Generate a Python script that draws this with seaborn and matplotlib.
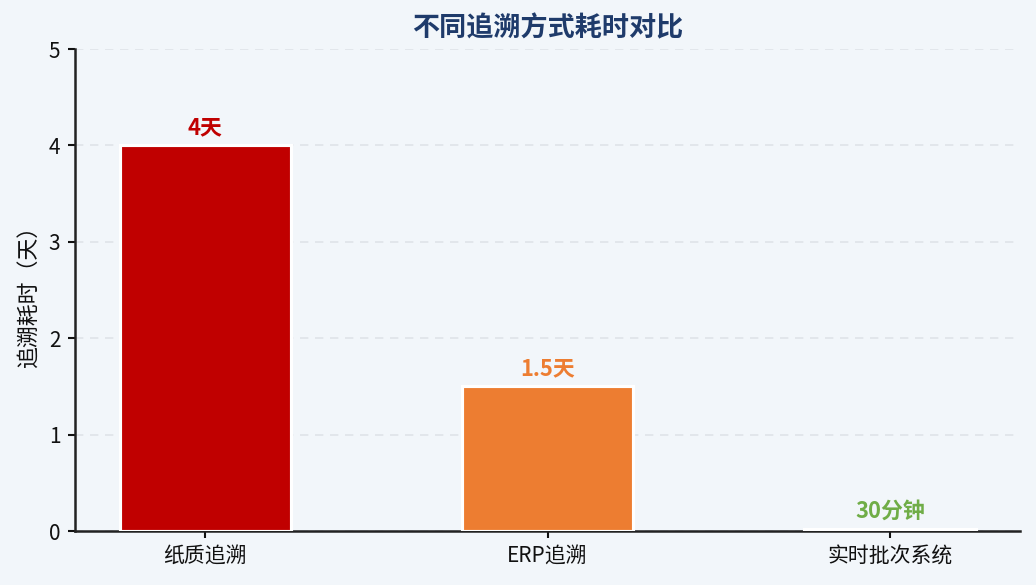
import matplotlib
matplotlib.use("Agg")
import matplotlib.pyplot as plt
import seaborn as sns
import pandas as pd

categories = ["纸质追溯", "ERP追溯", "实时批次系统"]
values_days = [4, 1.5, 30 / 60 / 24]
labels = ["4天", "1.5天", "30分钟"]
colors = ["#c00000", "#ed7d31", "#70ad47"]

bg = "#f2f6fa"
sns.set_theme(style="white")
plt.rcParams["font.family"] = ["Noto Sans CJK SC", "DejaVu Sans"]
plt.rcParams["axes.unicode_minus"] = False

df = pd.DataFrame({"method": categories, "days": values_days})

fig = plt.figure(figsize=(1036 / 150, 585 / 150), dpi=150, facecolor=bg)
ax = fig.add_axes([0.0724, 0.0923, 0.9122, 0.8239])
ax.set_facecolor(bg)

sns.barplot(data=df, x="method", y="days", hue="method", palette=colors,
            saturation=1, legend=False, width=0.5, edgecolor="white",
            linewidth=1.5, ax=ax, zorder=3)

for i, (v, lab, c) in enumerate(zip(values_days, labels, colors)):
    ax.text(i, v + 0.06, lab, ha="center", va="bottom", color=c,
            fontsize=10.5, fontweight="bold", zorder=4)

ax.set_ylim(0, 5)
ax.set_xlim(-0.38, 2.38)
ax.set_yticks([0, 1, 2, 3, 4, 5])
ax.yaxis.grid(True, linestyle=(0, (5, 4)), color="#dfe3e8", linewidth=0.8, zorder=0)
ax.set_axisbelow(True)
ax.set_xlabel("")
ax.set_ylabel("追溯耗时（天）", fontsize=10.5, color="#111111")
ax.set_title("不同追溯方式耗时对比", fontsize=13, fontweight="bold", color="#1f3b6b", pad=6)
ax.tick_params(axis="both", labelsize=10, colors="#111111", length=3.5, width=1,
               left=True, bottom=True)
for s in ["top", "right"]:
    ax.spines[s].set_visible(False)
for s in ["left", "bottom"]:
    ax.spines[s].set_color("#222222")
    ax.spines[s].set_linewidth(1.2)

fig.savefig("out.png", dpi=150, facecolor=bg)
